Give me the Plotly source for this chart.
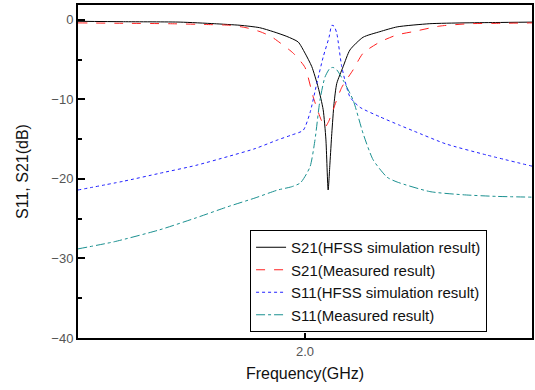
import plotly.graph_objects as go

# S21 HFSS simulation
f_s21_sim = [1.50, 1.60, 1.725, 1.80, 1.857, 1.90, 1.93, 1.96, 1.985, 2.0, 2.015, 2.029, 2.040, 2.046, 2.051,
             2.055, 2.059, 2.064, 2.070, 2.084, 2.099, 2.128, 2.165, 2.203, 2.275, 2.348, 2.42, 2.50]
s21_sim = [-0.2, -0.25, -0.3, -0.5, -0.7, -1.0, -1.5, -2.1, -2.8, -4.2, -5.9, -8.5, -11.3, -15.0, -21.4,
           -18.0, -14.3, -10.5, -8.0, -5.9, -3.8, -2.2, -1.5, -0.9, -0.5, -0.4, -0.35, -0.3]

# S21 measured
f_s21_meas = [1.50, 1.60, 1.70, 1.78, 1.835, 1.87, 1.901, 1.925, 1.945, 1.974, 2.0, 2.018, 2.035, 2.044, 2.052,
              2.062, 2.081, 2.106, 2.128, 2.165, 2.203, 2.238, 2.297, 2.363, 2.43, 2.50]
s21_meas = [-0.4, -0.45, -0.5, -0.6, -0.7, -1.0, -1.5, -2.1, -2.9, -4.2, -6.0, -9.7, -12.5, -13.5, -12.8,
            -11.3, -8.5, -6.3, -4.2, -2.8, -1.9, -1.5, -0.8, -0.5, -0.45, -0.4]

# S11 HFSS simulation
f_s11_sim = [1.50, 1.60, 1.68, 1.76, 1.83, 1.89, 1.94, 1.97, 1.996, 2.011, 2.026, 2.040, 2.053, 2.059,
             2.064, 2.070, 2.081, 2.099, 2.121, 2.165, 2.21, 2.24, 2.31, 2.40, 2.50]
s11_sim = [-21.4, -20.3, -19.3, -18.3, -17.2, -16.2, -15.1, -14.5, -13.9, -11.7, -8.0, -4.7, -2.2, -0.7,
           -0.8, -1.7, -5.9, -9.7, -11.0, -12.2, -13.3, -14.0, -15.6, -17.0, -18.4]

# S11 measured
f_s11_meas = [1.50, 1.58, 1.68, 1.76, 1.83, 1.89, 1.94, 1.97, 1.99, 2.011, 2.022, 2.033, 2.044, 2.055,
              2.062, 2.070, 2.084, 2.106, 2.128, 2.150, 2.181, 2.203, 2.275, 2.348, 2.42, 2.50]
s11_meas = [-28.8, -27.9, -26.4, -24.9, -23.5, -22.4, -21.4, -21.0, -20.5, -18.5, -15.1, -10.1, -7.2, -6.1,
            -6.0, -6.3, -7.6, -10.1, -14.3, -17.6, -19.8, -20.4, -21.6, -22.0, -22.2, -22.3]

names = ["S21(HFSS simulation result)", "S21(Measured result)",
         "S11(HFSS simulation result)", "S11(Measured result)"]

x_ticks = [2.0]
x_tick_text = ["2.0"]
y_ticks = [0, -10, -20, -30, -40]

FONT = "Liberation Sans, Arial, sans-serif"

fig = go.Figure()
fig.add_trace(go.Scatter(x=f_s21_sim, y=s21_sim, mode="lines", name=names[0],
                         line=dict(color="#000000", width=1, dash="solid", shape="spline", smoothing=0.6)))
fig.add_trace(go.Scatter(x=f_s21_meas, y=s21_meas, mode="lines", name=names[1],
                         line=dict(color="#ff2020", width=1, dash="dash", shape="spline", smoothing=0.6)))
fig.add_trace(go.Scatter(x=f_s11_sim, y=s11_sim, mode="lines", name=names[2],
                         line=dict(color="#2020ff", width=1, dash="dot", shape="spline", smoothing=0.6)))
fig.add_trace(go.Scatter(x=f_s11_meas, y=s11_meas, mode="lines", name=names[3],
                         line=dict(color="#1a9090", width=1, dash="dashdot", shape="spline", smoothing=0.6)))

fig.update_layout(
    width=535, height=390,
    margin=dict(l=78, r=3, t=5, b=52, autoexpand=False),
    paper_bgcolor="white", plot_bgcolor="white",
    font=dict(family=FONT, size=13, color="#222222"),
    showlegend=True,
    legend=dict(x=0.379, y=0.018, xanchor="left", yanchor="bottom",
                bgcolor="white", bordercolor="#000000", borderwidth=1,
                font=dict(family=FONT, size=15, color="#111111"),
                tracegroupgap=0, itemwidth=30),
    xaxis=dict(range=[1.5, 2.5], tickvals=x_ticks, ticktext=x_tick_text,
               ticks="inside", ticklen=5, tickwidth=1.5, tickcolor="#000000",
               showline=True, linecolor="#000000", linewidth=2, mirror=True,
               showgrid=False, zeroline=False, automargin=False,
               tickfont=dict(family=FONT, size=13, color="#555555"),
               title=dict(text="Frequency(GHz)", font=dict(family=FONT, size=16, color="#111111"),
                          standoff=10)),
    yaxis=dict(range=[-40, 1.85], tickvals=y_ticks,
               ticks="inside", ticklen=7, tickwidth=1.5, tickcolor="#000000",
               minor=dict(tickvals=[-5, -15, -25, -35], ticks="inside", ticklen=4,
                          tickwidth=1.5, tickcolor="#000000"),
               showline=True, linecolor="#000000", linewidth=2, mirror=True,
               showgrid=False, zeroline=False, automargin=False,
               tickfont=dict(family=FONT, size=13, color="#555555"),
               title=dict(text="S11, S21(dB)", font=dict(family=FONT, size=16, color="#111111"),
                          standoff=19)),
)

fig.write_html("out.html", config={"displayModeBar": False},
               post_script="document.body.style.margin='0';")
